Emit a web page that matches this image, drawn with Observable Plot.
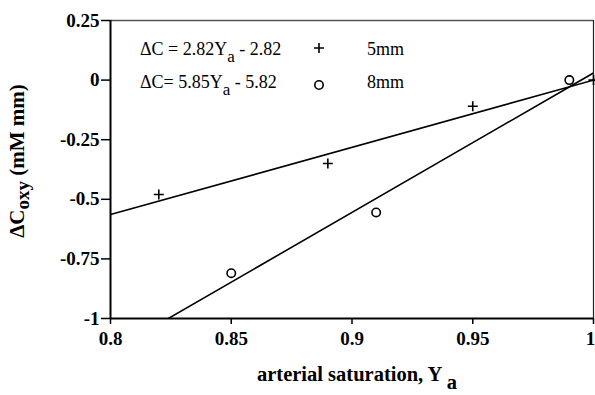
<!DOCTYPE html>
<html>
<head>
<meta charset="utf-8">
<script src="https://cdn.jsdelivr.net/npm/d3@7"></script>
<script src="https://cdn.jsdelivr.net/npm/@observablehq/plot@0.6"></script>
<style>
  body { margin: 0; background: #fff; color: #000; }
  svg { display: block; }
</style>
</head>
<body>
<div id="chart"></div>
<script>
// Measured change in oxy-haemoglobin vs arterial saturation, two probe separations
const sat5mm = [0.82, 0.89, 0.95, 1.0];
const dc5mm = [-0.48, -0.35, -0.11, 0.0];
const sat8mm = [0.85, 0.91, 0.99];
const dc8mm = [-0.81, -0.555, 0.0];

// Fitted lines: ΔC = slope * Ya + intercept
const fitNames = ["5mm", "8mm"];
const fitSlopes = [2.82, 5.85];
const fitIntercepts = [-2.82, -5.82];
const fitText = ["ΔC = 2.82Y|a| - 2.82", "ΔC= 5.85Y|a| - 5.82"];

const xTicks = [0.8, 0.85, 0.9, 0.95, 1];
const yTicks = [0.25, 0, -0.25, -0.5, -0.75, -1];
const xDomain = [0.8, 1];
const yDomain = [-1, 0.25];

const pts5 = sat5mm.map((x, i) => ({x, y: dc5mm[i]}));
const pts8 = sat8mm.map((x, i) => ({x, y: dc8mm[i]}));
const fitRows = fitNames.flatMap((name, i) =>
  xDomain.map(x => ({name, x, y: fitSlopes[i] * x + fitIntercepts[i]})));

// Open "+" marker drawn with strokes only
const plusSymbol = {
  draw(ctx, size) {
    const r = Math.sqrt(size / Math.PI);
    ctx.moveTo(-r, 0); ctx.lineTo(r, 0);
    ctx.moveTo(0, -r); ctx.lineTo(0, r);
  }
};

const serif = "'Liberation Serif', 'Times New Roman', Times, serif";

const chart = Plot.plot({
  width: 595,
  height: 395,
  marginLeft: 110,
  marginRight: 2,
  marginTop: 20,
  marginBottom: 77,
  style: {fontFamily: serif, background: "#fff", color: "#000"},
  x: {domain: xDomain},
  y: {domain: yDomain},
  marks: [
    Plot.ruleY([yDomain[1]], {stroke: "#555", strokeWidth: 1.5}),
    Plot.ruleX([xDomain[1]], {stroke: "#222", strokeWidth: 1.2}),
    Plot.axisX(xTicks, {
      tickSize: 6, tickPadding: 7, fontSize: 19, fontWeight: "bold",
      tickFormat: d => String(d), label: null, strokeWidth: 1.5
    }),
    Plot.axisY(yTicks, {
      tickSize: 9, tickPadding: 2, fontSize: 19, fontWeight: "bold",
      tickFormat: d => String(d), label: null, strokeWidth: 1.5
    }),
    Plot.ruleX([xDomain[0]], {stroke: "#000", strokeWidth: 2}),
    Plot.ruleY([yDomain[0]], {stroke: "#000", strokeWidth: 2}),
    Plot.line(fitRows, {x: "x", y: "y", z: "name", stroke: "#000", strokeWidth: 1.6, clip: true}),
    Plot.dot(pts5, {x: "x", y: "y", symbol: plusSymbol, r: 5, stroke: "#000", strokeWidth: 1.6}),
    Plot.dot(pts8, {x: "x", y: "y", r: 4.2, stroke: "#000", fill: "#fff", strokeWidth: 1.6})
  ]
});

document.getElementById("chart").append(chart);

const svg = d3.select(chart);

// Keep the last x tick label inside the right edge
svg.selectAll('g[aria-label="x-axis tick label"] text')
  .filter(function () { return this.textContent === "1"; })
  .attr("dx", -3);

// Text with a lowered subscript part, written as "main|sub|rest"
function subText(g, str, subSize, shift) {
  const parts = str.split("|");
  g.append("tspan").text(parts[0]);
  g.append("tspan").attr("font-size", subSize).attr("dy", shift).text(parts[1]);
  if (parts[2]) g.append("tspan").attr("dy", -shift).text(parts[2]);
}

// Legend inside the frame
const legend = svg.append("g")
  .attr("font-family", serif).attr("font-size", 18).attr("fill", "#000")
  .attr("text-anchor", "start");
const rowY = [55, 88];
fitText.forEach((t, i) => {
  subText(legend.append("text").attr("x", 140).attr("y", rowY[i]), t, 17, 7);
  legend.append("text").attr("x", 367).attr("y", rowY[i]).text(fitNames[i]);
});
legend.append("path")
  .attr("d", d3.symbol(plusSymbol, Math.PI * 25)())
  .attr("transform", `translate(319,${rowY[0] - 7})`)
  .attr("stroke", "#000").attr("stroke-width", 1.6).attr("fill", "none");
legend.append("circle")
  .attr("cx", 319).attr("cy", rowY[1] - 3).attr("r", 4.2)
  .attr("stroke", "#000").attr("stroke-width", 1.6).attr("fill", "#fff");

// Axis titles
const xt = svg.append("text")
  .attr("x", 357).attr("y", 381).attr("text-anchor", "middle")
  .attr("font-family", serif).attr("font-size", 20.5).attr("font-weight", "bold");
subText(xt, "arterial saturation, Y| a|", 20.5, 8);

const yt = svg.append("text")
  .attr("transform", "translate(24,161) rotate(-90)").attr("text-anchor", "middle")
  .attr("font-family", serif).attr("font-size", 21).attr("font-weight", "bold");
subText(yt, "ΔC|oxy| (mM mm)", 19, 5);
</script>
</body>
</html>
